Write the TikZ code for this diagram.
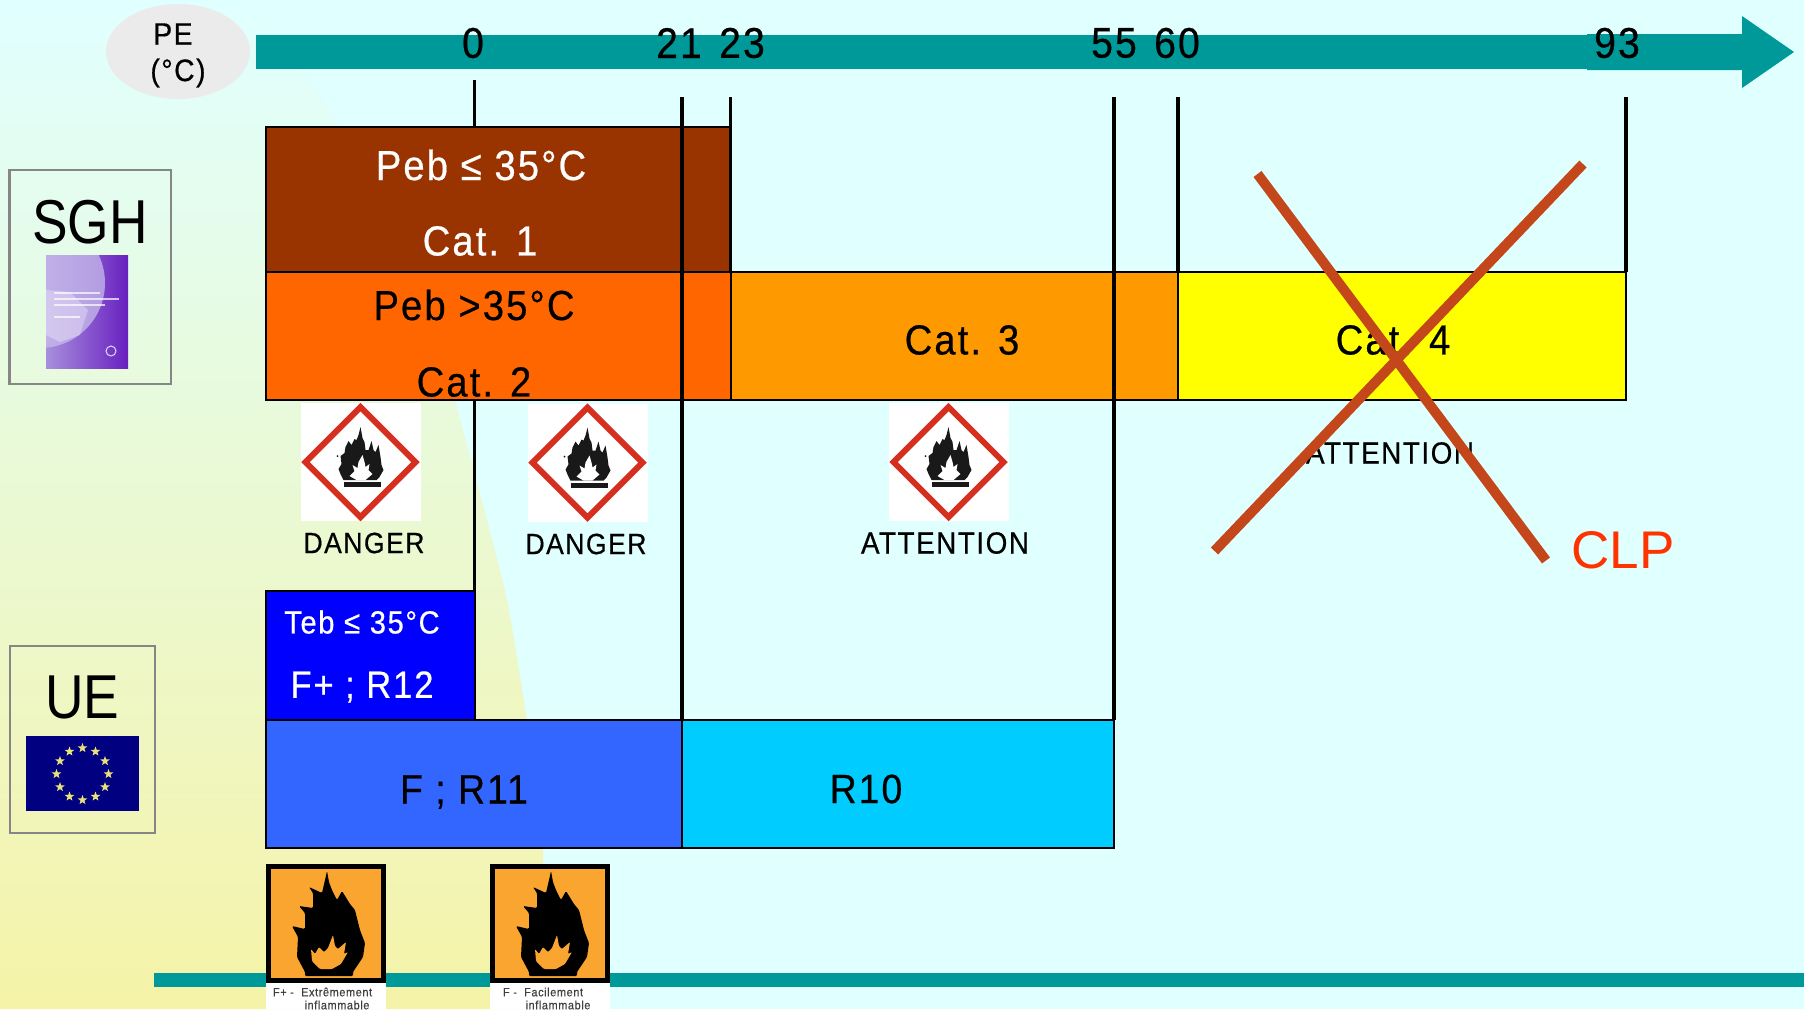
\documentclass[tikz,border=0pt]{standalone}
\usepackage{fontspec}
\setmainfont[FakeStretch=0.91,LetterSpace=5,FakeBold=0.5]{Liberation Sans}
\newfontfamily\arialf{Liberation Sans}
\newfontfamily\plainf[FakeStretch=0.86]{Liberation Sans}
\usetikzlibrary{shapes.geometric}
\definecolor{bgc}{HTML}{E0FFFF}
\definecolor{yel}{HTML}{F5F3A8}
\definecolor{teal}{HTML}{009999}
\definecolor{brownb}{HTML}{993300}
\definecolor{orangeb}{HTML}{FF6600}
\definecolor{amberb}{HTML}{FF9900}
\definecolor{yellowb}{HTML}{FFFF00}
\definecolor{blueb}{HTML}{0000FF}
\definecolor{midb}{HTML}{3366FF}
\definecolor{skyb}{HTML}{00CCFF}
\definecolor{ghsred}{HTML}{D5301F}
\definecolor{picto}{HTML}{F9A52F}
\definecolor{crossc}{HTML}{C4471B}
\definecolor{clpc}{HTML}{FF3300}
\definecolor{eub}{HTML}{000080}
\definecolor{eus}{HTML}{E8E27A}
\definecolor{bookl}{HTML}{A88FDC}
\definecolor{bookr}{HTML}{6820C0}
\definecolor{globec}{HTML}{C8BCEC}
\tikzset{
  x=.5pt,y=-.5pt,
  bandbox/.style={draw=black,line width=1pt},
  framebox/.style={draw=gray!95,line width=1.25pt},
  tick/.style={draw=black,line width=1.7pt},
  crossline/.style={draw=crossc,line width=5pt},
  lbl/.style={inner sep=0,outer sep=0,text=black,align=center},
  num/.style={lbl,font=\fontsize{21.5}{24}\selectfont},
  big/.style={lbl,font=\fontsize{21}{24}\selectfont},
  hazard/.style={lbl,font=\fontsize{15.3}{18}\selectfont},
  dangerlbl/.style={lbl,font=\fontsize{14.6}{18}\selectfont},
  small/.style={lbl,align=left,text=black!75,font=\fontsize{6}{7}\selectfont},
  ghs/.pic={
    \fill[white] (-60,-59) rectangle (60,59);
    \draw[ghsred,line width=3pt,line join=miter] (0,-55) -- (55,0) -- (0,55) -- (-55,0) -- cycle;
    \fill[black!90] (0,-35) -- (2,-24) -- (4,-20) -- (5,-12) -- (8,-12) -- (11,-21) -- (13,-12) -- (15,-10) -- (18,-17) -- (20,-5) -- (21,3) -- (23,8) -- (19,15) -- (16,18) -- (-17,18) -- (-20,12) -- (-22,7) -- (-19,2) -- (-20,-6) -- (-16,-9) -- (-15,-15) -- (-12,-21) -- (-9,-17) -- (-6,-23) -- (-4,-22) -- (-2,-27) -- cycle;
    \fill[white] (2,-7) -- (4,0) -- (5,5) -- (9,2) -- (8,8) -- (12,12) -- (5,18) -- (-4,18) -- (-11,14) -- (-6,9) -- (-8,3) -- (-3,6) -- (-2,0) -- cycle;
    \fill[black!90] (-17,20) rectangle (20,25);
    \fill[black!90] (-23,-6) circle [radius=1];
  },
  oldflame/.pic={
    \fill[black] (0,0) rectangle (120,119);
    \fill[picto] (5,5) rectangle (115,114);
    \fill[black,rounded corners=.6pt] (61,7) -- (63,18) -- (66,26) -- (71,36) -- (76,27) -- (84,40) -- (89,46) -- (94,66) -- (99,79) -- (97,93) -- (87,108) -- (87,112) -- (39,112) -- (39,108) -- (31,93) -- (32,73) -- (26,62) -- (39,65) -- (39,49) -- (33,42) -- (47,44) -- (47,29) -- (43,23) -- (56,29) -- (59,16) -- cycle;
    \fill[picto,rounded corners=.5pt] (67,71) -- (69,82) -- (72,85) -- (80,78) -- (78,90) -- (82,88) -- (75,100) -- (66,105) -- (54,105) -- (46,97) -- (45,85) -- (49,90) -- (53,83) -- (58,88) -- (62,84) -- cycle;
  }
}
\begin{document}
\begin{tikzpicture}
\useasboundingbox (0,0) rectangle (1804,1009);
\clip (0,0) rectangle (1804,1009);
\fill[bgc] (0,0) rectangle (1804,1009);
% yellow left region with vertical gradient
\shade[top color=bgc,bottom color=yel] (0,0) -- (240,0) .. controls (290,50) and (320,95) .. (337,123) .. controls (385,205) and (430,310) .. (455,400) .. controls (470,455) and (490,530) .. (505,590) .. controls (515,640) and (522,690) .. (527,720) .. controls (533,765) and (540,810) .. (543,850) -- (546,1009) -- (0,1009) -- cycle;

% temperature axis
\coordinate (x0) at (474.5,80);
\coordinate (x21) at (682,97);
\coordinate (x23) at (730.5,97);
\coordinate (x55) at (1114,97);
\coordinate (x60) at (1178,97);
\coordinate (x93) at (1626,97);
\fill[teal] (256,35) rectangle (1600,69);
\fill[teal] (1587,34) -- (1742,34) -- (1742,16) -- (1794,52) -- (1742,88) -- (1742,70) -- (1587,70) -- cycle;
\fill[black!8] (178,51.5) ellipse [x radius=72,y radius=47.5];
\node[lbl,font=\fontsize{15.5}{19}\selectfont] (pe) at (173,34) {PE};
\node[lbl,font=\fontsize{15.5}{19}\selectfont] (pec) at (178,73) {(°C)};
\node[num] (n0) at (473,43) {0};
\node[num] (n21) at (679,43) {21};
\node[num] (n23) at (742,43) {23};
\node[num] (n55) at (1114,43) {55};
\node[num] (n60) at (1177,43) {60};
\node[num] (n93) at (1617,43) {93};

% SGH bands
\draw[bandbox,fill=brownb] (266,127) rectangle (730.5,272);
\draw[bandbox,fill=orangeb] (266,272) rectangle (730.5,400);
\draw[bandbox,fill=amberb] (730.5,272) rectangle (1178,400);
\draw[bandbox,fill=yellowb] (1178,272) rectangle (1626,400);

% EU bands
\draw[bandbox,fill=blueb] (266,591) rectangle (474.5,720);
\draw[bandbox,fill=midb] (266,720) rectangle (682,848);
\draw[bandbox,fill=skyb] (682,720) rectangle (1114,848);

% scale ticks
\coordinate (x0a) at (474.5,127);
\coordinate (x0b) at (474.5,400);
\coordinate (x0c) at (474.5,591);
\coordinate (x21b) at (682,720);
\coordinate (x23b) at (730.5,272);
\coordinate (x55b) at (1114,720);
\coordinate (x60b) at (1178,272);
\coordinate (x93b) at (1626,272);
\draw[tick] (x0) -- (x0a);
\draw[tick] (x0b) -- (x0c);
\draw[tick] (x21) -- (x21b);
\draw[tick] (x23) -- (x23b);
\draw[tick] (x55) -- (x55b);
\draw[tick] (x60) -- (x60b);
\draw[tick] (x93) -- (x93b);

% band labels
\node[big,text=white] (peb1) at (481,165) {Peb ≤ 35°C};
\node[big,text=white] (cat1) at (480,241) {Cat. 1};
\node[big] (peb2) at (474,305) {Peb >35°C};
\node[big] (cat2) at (474,382) {Cat. 2};
\node[big] (cat3) at (962,340) {Cat. 3};
\node[big] (cat4) at (1393,340) {Cat. 4};
\node[lbl,text=white,font=\fontsize{16}{18}\selectfont] (teb) at (362,622) {Teb ≤ 35°C};
\node[lbl,text=white,font=\fontsize{19}{20}\selectfont] (r12) at (362,687) {F+ ; R12};
\node[lbl,font=\fontsize{20.5}{24}\selectfont] (r11) at (464,792) {F ; R11};
\node[lbl,font=\fontsize{20.5}{24}\selectfont] (r10) at (866,789) {R10};

% GHS pictograms
\pic at (360.5,462) {ghs};
\pic at (587.5,462.5) {ghs};
\pic at (948.5,462) {ghs};
\node[dangerlbl] (d1) at (364,543) {DANGER};
\node[dangerlbl] (d2) at (586,544) {DANGER};
\node[hazard] (a1) at (945,543) {ATTENTION};
\node[hazard] (a2) at (1390,453) {ATTENTION};

% cross over category 4
\coordinate (c1a) at (1257.5,174);
\coordinate (c1b) at (1546,560.5);
\coordinate (c2a) at (1583,164);
\coordinate (c2b) at (1214.5,551);
\draw[crossline] (c1a) -- (c1b);
\draw[crossline] (c2a) -- (c2b);
\node[lbl,text=clpc,font=\arialf\fontsize{26.5}{30}\selectfont] (clp) at (1623,550) {CLP};

% SGH frame
\draw[framebox] (9.5,170) rectangle (171,384);
\node[lbl,font=\plainf\fontsize{31}{36}\selectfont] (sgh) at (90,222) {SGH};
\begin{scope}
\clip (46,255) rectangle (128,368);
\shade[left color=bookl,right color=bookr] (46,255) rectangle (128,368);
\fill[globec,opacity=.75] (40,283) circle [radius=65];
\fill[white,opacity=.3] (46,290) -- (70,292) -- (88,310) -- (80,335) -- (60,342) -- (46,335) -- cycle;
\draw[white,opacity=.7,line width=.8pt] (54,293) -- (100,293) (54,299) -- (119,299) (54,305) -- (105,305) (54,317) -- (80,317);
\draw[white,opacity=.8,line width=.5pt] (111,351) circle [radius=5];
\end{scope}

% UE frame
\draw[framebox] (10,646) rectangle (155,833);
\node[lbl,font=\plainf\fontsize{31}{36}\selectfont] (ue) at (82.5,697) {UE};
\fill[eub] (26,736) rectangle (139,811);
\foreach \a in {0,30,...,330}
  \node[star,star points=5,star point ratio=2.4,fill=eus,inner sep=0,minimum size=5pt] (st\a) at ({82.5+26*sin(\a)},{774-26*cos(\a)}) {};

% bottom line and old pictograms
\fill[teal] (154,973) rectangle (1804,987);
\fill[white] (266,983) rectangle (386,1009);
\fill[white] (490,983) rectangle (610,1009);
\pic at (266,864) {oldflame};
\pic at (490,864) {oldflame};
\node[small,anchor=west] (f1) at (273,992) {F+ -\ \ Extrêmement};
\node[small,anchor=center] (f1b) at (337,1005) {inflammable};
\node[small,anchor=west] (f2) at (503,992) {F -\ \ Facilement};
\node[small,anchor=center] (f2b) at (558,1005) {inflammable};
\end{tikzpicture}
\end{document}
